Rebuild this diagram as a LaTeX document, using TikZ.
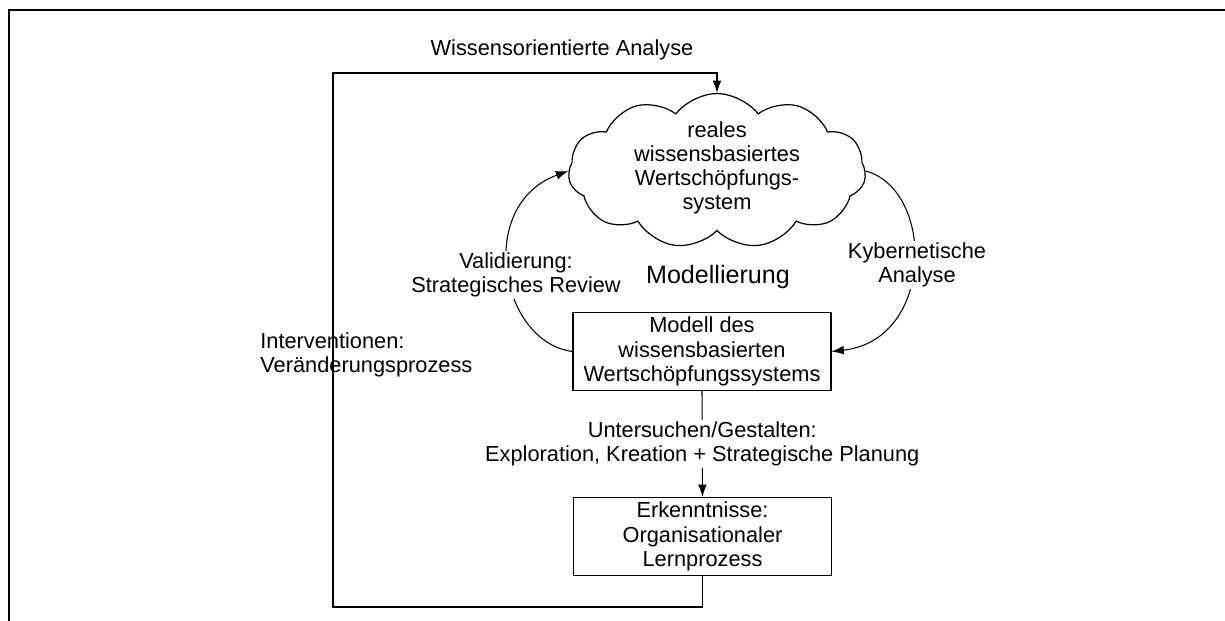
\documentclass[tikz,border=0pt]{standalone}
\usepackage{fontspec}
\setmainfont{Liberation Sans}
\usetikzlibrary{shapes.symbols,arrows.meta}

\tikzset{
  box/.style={draw, line width=0.7pt, minimum width=5.16cm, minimum height=1.56cm, inner sep=1pt, align=center},
  wolke/.style={cloud, draw, line width=0.7pt, cloud puffs=11, cloud puff arc=105, cloud ignores aspect, minimum width=5.95cm, minimum height=3.1cm, inner sep=0pt},
  lbl/.style={fill=white, inner sep=1pt, align=center},
  pfeil/.style={-{Latex[length=7pt,width=5pt]}}
}

\begin{document}
\begin{tikzpicture}[x=0.02cm,y=-0.02cm,line width=0.6pt,font=\fontsize{12.4}{13.8}\selectfont]
\useasboundingbox (0,0) rectangle (1225,621);

% Rahmen
\draw[line width=1.6pt] (1225,10) -| (9,621);

% Knoten
\node[wolke] (wolke) at (717,171) {};
\node[align=center] (wolketext) at (717,168) {reales\\wissensbasiertes\\Wertsch\"opfungs-\\system};
\node[box] (modell) at (702,351.5) {Modell des\\wissensbasierten\\Wertsch\"opfungssystems};
\node[box] (erk) at (702.5,536.5) {Erkenntnisse:\\Organisationaler\\Lernprozess};
\coordinate (ecke) at (717,73);

% Kreislauf Modellierung
\draw[pfeil] (modell.west) .. controls (500,342) and (475,205) .. (wolke.west);
\draw[pfeil] (wolke.east) .. controls (935,190) and (935,340) .. (modell.east);
\node[lbl] (valid) at (516,275) {Validierung:\\Strategisches Review};
\node[lbl] (kyb) at (917,265) {Kybernetische\\Analyse};
\node (mod) at (718,277) {\fontsize{14.3}{16}\selectfont Modellierung};

% Untersuchen/Gestalten
\draw[pfeil] (modell.south) -- node[lbl] (unters) {Untersuchen/Gestalten:\\Exploration, Kreation + Strategische Planung} (erk.north);

% aeussere Schleife
\draw[pfeil] (erk.south) |- (333,607) |- (ecke) -- (wolke.north);
\node (wiss) at (562,50) {Wissensorientierte Analyse};
\node[align=left, anchor=west] (interv) at (254,355) {Interventionen:\\Ver\"anderungsprozess};
\end{tikzpicture}
\end{document}
